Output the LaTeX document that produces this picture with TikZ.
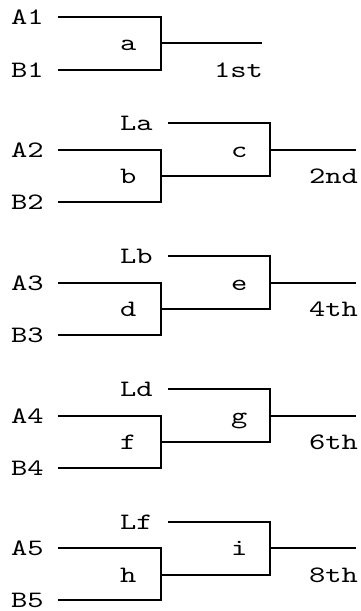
\documentclass[tikz,border=0pt]{standalone}
\usepackage{fontspec}
\newfontfamily\bracketfont{lmmono10-regular}[Extension=.otf,FakeStretch=1.32]
\begin{document}
\begin{tikzpicture}[x=1pt,y=-1pt,line width=2pt,
    every node/.style={font=\bracketfont\fontsize{23.5}{23.5}\selectfont,inner sep=0pt,anchor=base west}]
    \useasboundingbox (0,0) rectangle (360,611);
    % Ronda 1
    \draw (58,17) -- (161,17) -- (161,70) -- (58,70);
    \draw (161,43) -- (262,43);
    \node (A1) at (10,24) {A1};
    \node (B1) at (10,77) {B1};
    \node (a) at (119,50) {a};
    \node (p1) at (213,77) {1st};
    % Ronda 2
    \draw (58,150) -- (161,150) -- (161,202) -- (58,202);
    \draw (168,123) -- (270,123) -- (270,176) -- (161,176);
    \draw (270,150) -- (356,150);
    \node (La) at (119,130) {La};
    \node (A2) at (10,157) {A2};
    \node (b) at (119,183) {b};
    \node (c) at (230,157) {c};
    \node (p2) at (308,183) {2nd};
    \node (B2) at (10,209) {B2};
    % Ronda 3
    \draw (58,283) -- (161,283) -- (161,335) -- (58,335);
    \draw (168,256) -- (270,256) -- (270,309) -- (161,309);
    \draw (270,283) -- (356,283);
    \node (Lb) at (119,263) {Lb};
    \node (A3) at (10,290) {A3};
    \node (d) at (119,316) {d};
    \node (e) at (230,290) {e};
    \node (p4) at (308,316) {4th};
    \node (B3) at (10,342) {B3};
    % Ronda 4
    \draw (58,416) -- (161,416) -- (161,468) -- (58,468);
    \draw (168,389) -- (270,389) -- (270,442) -- (161,442);
    \draw (270,416) -- (356,416);
    \node (Ld) at (119,396) {Ld};
    \node (A4) at (10,423) {A4};
    \node (f) at (119,449) {f};
    \node (g) at (230,423) {g};
    \node (p6) at (308,449) {6th};
    \node (B4) at (10,475) {B4};
    % Ronda 5
    \draw (58,548) -- (161,548) -- (161,600) -- (58,600);
    \draw (168,522) -- (270,522) -- (270,575) -- (161,575);
    \draw (270,548) -- (356,548);
    \node (Lf) at (119,529) {Lf};
    \node (A5) at (10,555) {A5};
    \node (h) at (119,582) {h};
    \node (i) at (230,555) {i};
    \node (p8) at (308,582) {8th};
    \node (B5) at (10,607) {B5};
\end{tikzpicture}
\end{document}
